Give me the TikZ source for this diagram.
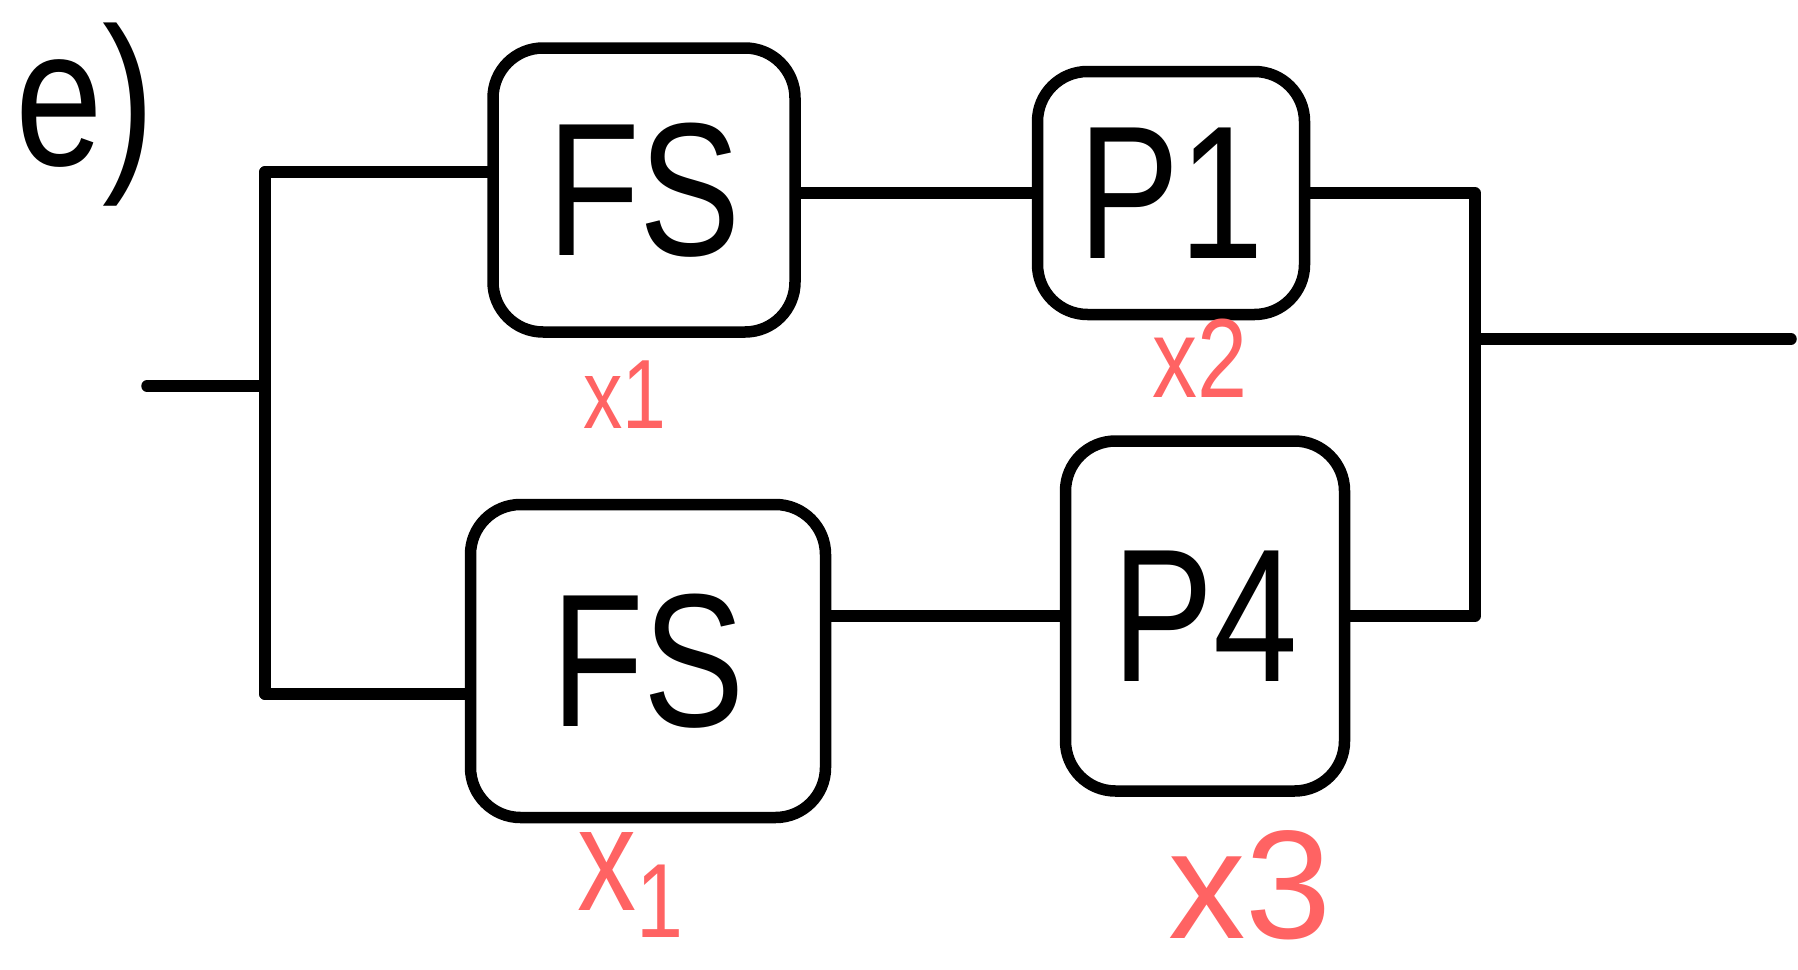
\documentclass[tikz,border=0pt]{standalone}
\usepackage{fontspec}
\setmainfont{Liberation Sans}
\newfontfamily\handfont[FakeStretch=0.8]{Liberation Sans}
\definecolor{labelred}{RGB}{255,99,99}
\begin{document}
\begin{tikzpicture}[x=0.1mm,y=-0.1mm,
  wire/.style={line width=1.15mm, line cap=round, line join=round},
  block/.style={draw, line width=1.15mm, rounded corners=5mm, inner sep=0pt,
    font=\handfont\fontsize{54}{58}\selectfont},
  tag/.style={text=labelred, inner sep=0pt}
]
\useasboundingbox (0,0) rectangle (1798,969);

% part label
\node[font=\handfont\fontsize{56}{60}\selectfont] (title) at (85,115) {e)};

% blocks
\node[block, minimum width=30.2mm, minimum height=28.4mm] (fs1) at (644,190) {FS};
\node[block, minimum width=26.7mm, minimum height=24.3mm] (p1)  at (1171,193) {P1};
\node[block, minimum width=35.5mm, minimum height=31.3mm] (fs2) at (648,661) {FS};
\node[block, minimum width=27.9mm, minimum height=35.0mm] (p4)  at (1205,616) {P4};

% block tags
\node[tag, font=\handfont\fontsize{28}{30}\selectfont] (t1) at (625,395) {x1};
\node[tag, font=\handfont\fontsize{32}{34}\selectfont] (t2) at (1200,358) {x2};
\node[tag, font=\handfont\fontsize{42}{44}\selectfont] (t3) at (630,885)
  {x\raisebox{-0.35ex}{\fontsize{30}{32}\selectfont 1}};
\node[tag, font=\fontsize{44}{48}\selectfont] (t4) at (1250,885) {x3};

% input and split bus
\coordinate (in)    at (147,386);
\coordinate (split) at (265,386);
\coordinate (bustop) at (265,172);
\coordinate (busbot) at (265,694);
\draw[wire] (in) -- (split);
\draw[wire] (bustop) -- (busbot);
\draw[wire] (bustop) -- (fs1.west |- bustop);
\draw[wire] (busbot) -- (fs2.west |- busbot);

% stage links
\draw[wire] (fs1.east |- p1.west) -- (p1.west);
\draw[wire] (fs2.east |- p4.west) -- (p4.west);

% output join
\coordinate (join) at (1475,339);
\coordinate (out)  at (1791,339);
\draw[wire] (p1.east) -| (join) |- (p4.east);
\draw[wire] (join) -- (out);
\end{tikzpicture}
\end{document}
